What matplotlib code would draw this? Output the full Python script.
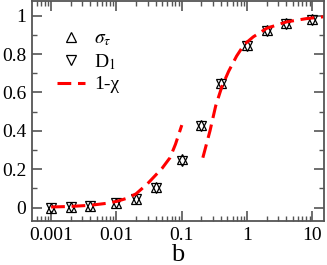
import numpy as np
import matplotlib
matplotlib.use('Agg')
import matplotlib.pyplot as plt
from matplotlib.ticker import LogLocator, NullFormatter, FixedLocator, FuncFormatter

plt.rcParams['font.family'] = ['Liberation Serif', 'DejaVu Serif']
plt.rcParams['mathtext.fontset'] = 'stix'

# data
b = [0.001, 0.002, 0.004, 0.01, 0.02, 0.04, 0.1, 0.2, 0.4, 1, 2, 4, 10]
sigma_tau = [0.0, 0.005, 0.008, 0.025, 0.047, 0.108, 0.252, 0.431, 0.649, 0.848, 0.924, 0.962, 0.982]
d1 = [0.0, 0.004, 0.006, 0.022, 0.044, 0.104, 0.242, 0.427, 0.643, 0.842, 0.918, 0.958, 0.978]

# 1-chi, two branches
b_low = [0.001, 0.002, 0.004, 0.007, 0.01, 0.015, 0.02, 0.03, 0.04, 0.05, 0.066, 0.08, 0.1]
chi_low = [0.003, 0.006, 0.012, 0.022, 0.032, 0.05, 0.072, 0.125, 0.17, 0.205, 0.26, 0.33, 0.43]
b_high = [0.21, 0.27, 0.33, 0.41, 0.52, 0.69, 0.9, 1.24, 2, 4, 8, 15]
chi_high = [0.26, 0.40, 0.53, 0.63, 0.71, 0.79, 0.85, 0.89, 0.935, 0.968, 0.985, 0.995]

fig = plt.figure(figsize=(3.27, 2.65), dpi=100)
ax = fig.add_axes([32/327, 1 - 221/265, 292/327, 220/265])

ax.plot(b, sigma_tau, ls='none', marker='^', ms=7.5, mfc='none', mec='black', mew=0.9, label=r'$\sigma_\tau$')
ax.plot(b, d1, ls='none', marker='v', ms=7.5, mfc='none', mec='black', mew=0.9, label=r'D$_1$')
ax.plot(b_low, chi_low, color='#ff0000', ls=(0, (4.5, 2.2)), lw=2.2, label=u'1-\u03c7')
ax.plot(b_high, chi_high, color='#ff0000', ls=(0, (4.5, 2.2)), lw=2.2)

ax.set_xscale('log')
ax.set_xlim(0.00051, 15)
ax.set_ylim(-0.07, 1.077)
ax.xaxis.set_major_locator(FixedLocator([0.001, 0.01, 0.1, 1, 10]))
ax.xaxis.set_major_formatter(FuncFormatter(lambda v, p: '%g' % v))
ax.xaxis.set_minor_locator(LogLocator(base=10, subs=np.arange(2, 10), numticks=20))
ax.xaxis.set_minor_formatter(NullFormatter())
ax.set_yticks([0, 0.2, 0.4, 0.6, 0.8, 1])
ax.set_yticklabels(['0', '0.2', '0.4', '0.6', '0.8', '1'])
ax.set_yticks([0.1, 0.3, 0.5, 0.7, 0.9], minor=True)

ax.tick_params(which='both', direction='in', top=True, right=True, labelsize=14, color='#555555', pad=4)
ax.tick_params(which='major', length=7, width=1.2)
ax.tick_params(which='minor', length=3.5, width=1.0)
for s in ax.spines.values():
    s.set_color('#555555')
    s.set_linewidth(1.3)

ax.set_xlabel('b', fontsize=19, labelpad=0)

ax.legend(loc='upper left', bbox_to_anchor=(0.04, 0.93), frameon=False, fontsize=14,
          handlelength=1.4, handletextpad=0.5, labelspacing=0.2, borderpad=0.2)

fig.savefig('out.png', dpi=100)
